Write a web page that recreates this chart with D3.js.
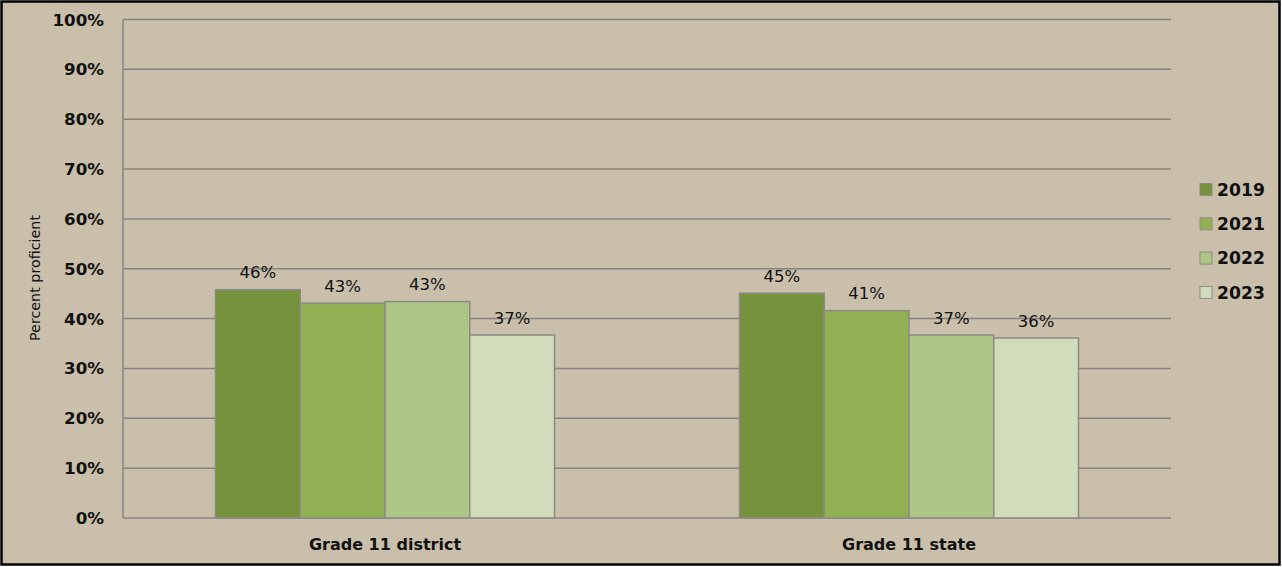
<!DOCTYPE html>
<html>
<head>
<meta charset="utf-8">
<script src="https://cdn.jsdelivr.net/npm/d3@7"></script>
<style>
  body { margin: 0; background: #fff; }
  svg { display: block; }
</style>
</head>
<body>
<div id="chart"></div>
<script>
var categories = ["Grade 11 district", "Grade 11 state"];
var years = ["2019", "2021", "2022", "2023"];
var values2019 = [45.8, 45.1];
var values2021 = [43.1, 41.6];
var values2022 = [43.4, 36.7];
var values2023 = [36.7, 36.1];
var labels2019 = ["46%", "45%"];
var labels2021 = ["43%", "41%"];
var labels2022 = ["43%", "37%"];
var labels2023 = ["37%", "36%"];
var yTicks = [0, 10, 20, 30, 40, 50, 60, 70, 80, 90, 100];
var colors = ["#77923c", "#92b054", "#adc585", "#d0dcbb"];

var seriesValues = [values2019, values2021, values2022, values2023];
var seriesLabels = [labels2019, labels2021, labels2022, labels2023];

var font = "'DejaVu Sans', Verdana, sans-serif";

var outerWidth = 1282, outerHeight = 567;
var margin = {top: 19.5, right: 111, bottom: 49, left: 123};
var width = outerWidth - margin.left - margin.right,
    height = outerHeight - margin.top - margin.bottom;

var svg = d3.select("#chart")
    .append("svg")
    .attr("width", outerWidth)
    .attr("height", outerHeight);

// background + frame
svg.append("rect")
    .attr("x", 1.5)
    .attr("y", 1.5)
    .attr("width", outerWidth - 4)
    .attr("height", outerHeight - 4)
    .style("fill", "#c9bfab")
    .style("stroke", "#000")
    .style("stroke-width", 2.5);

var g = svg.append("g")
    .attr("transform", "translate(" + margin.left + "," + margin.top + ")");

var x0 = d3.scaleBand()
    .domain(categories)
    .range([0, width])
    .padding(0);

// bars take about 65% of each category band
var x1 = d3.scaleBand()
    .domain(years)
    .range([0, x0.bandwidth() * 0.647])
    .padding(0);

var y = d3.scaleLinear()
    .domain([0, 100])
    .range([height, 0]);

// gridlines
g.selectAll(".grid")
    .data(yTicks)
    .enter().append("line")
    .attr("class", "grid")
    .attr("x1", 0)
    .attr("x2", width)
    .attr("y1", function(d) { return y(d); })
    .attr("y2", function(d) { return y(d); })
    .style("stroke", "#878480")
    .style("stroke-width", 1.5);

// left axis line
g.append("line")
    .attr("x1", 0).attr("x2", 0)
    .attr("y1", y(100)).attr("y2", y(0))
    .style("stroke", "#878480")
    .style("stroke-width", 1.5);

// y tick labels
g.selectAll(".ytick")
    .data(yTicks)
    .enter().append("text")
    .attr("class", "ytick")
    .attr("x", -19)
    .attr("y", function(d) { return y(d); })
    .attr("dy", "0.36em")
    .attr("text-anchor", "end")
    .style("font-family", font)
    .style("font-weight", "bold")
    .style("font-size", "16.7px")
    .style("fill", "#111")
    .text(function(d) { return d + "%"; });

// y axis title
svg.append("text")
    .attr("transform", "translate(40,278) rotate(-90)")
    .attr("text-anchor", "middle")
    .style("font-family", font)
    .style("font-size", "14.3px")
    .style("fill", "#111")
    .text("Percent proficient");

// bars
var groups = g.selectAll(".cat")
    .data(categories)
    .enter().append("g")
    .attr("class", "cat")
    .attr("transform", function(d) {
        return "translate(" + (x0(d) + (x0.bandwidth() - x1.range()[1]) / 2) + ",0)";
    });

groups.each(function(cat, ci) {
    var grp = d3.select(this);
    years.forEach(function(yr, si) {
        var v = seriesValues[si][ci];
        grp.append("rect")
            .attr("x", x1(yr))
            .attr("y", y(v))
            .attr("width", x1.bandwidth())
            .attr("height", y(0) - y(v))
            .style("fill", colors[si])
            .style("stroke", "#8b8b83")
            .style("stroke-width", 1.5);
        grp.append("text")
            .attr("x", x1(yr) + x1.bandwidth() / 2)
            .attr("y", y(v) - 11.5)
            .attr("text-anchor", "middle")
            .style("font-family", font)
            .style("font-size", "16.5px")
            .style("fill", "#111")
            .text(seriesLabels[si][ci]);
    });
});

// category labels
g.selectAll(".xlab")
    .data(categories)
    .enter().append("text")
    .attr("class", "xlab")
    .attr("x", function(d) { return x0(d) + x0.bandwidth() / 2; })
    .attr("y", 550 - margin.top)
    .attr("text-anchor", "middle")
    .style("font-family", font)
    .style("font-weight", "bold")
    .style("font-size", "16px")
    .style("fill", "#111")
    .text(function(d) { return d; });

// legend
var legend = svg.append("g")
    .attr("transform", "translate(1200,189.5)");

var leg = legend.selectAll(".leg")
    .data(years)
    .enter().append("g")
    .attr("class", "leg")
    .attr("transform", function(d, i) { return "translate(0," + (i * 34.3) + ")"; });

leg.append("rect")
    .attr("x", 0)
    .attr("y", -6)
    .attr("width", 12)
    .attr("height", 12)
    .style("fill", function(d, i) { return colors[i]; })
    .style("stroke", "#8b8b83")
    .style("stroke-width", 1);

leg.append("text")
    .attr("x", 17)
    .attr("y", 0)
    .attr("dy", "0.36em")
    .style("font-family", font)
    .style("font-weight", "bold")
    .style("font-size", "17.2px")
    .style("fill", "#111")
    .text(function(d) { return d; });
</script>
</body>
</html>
